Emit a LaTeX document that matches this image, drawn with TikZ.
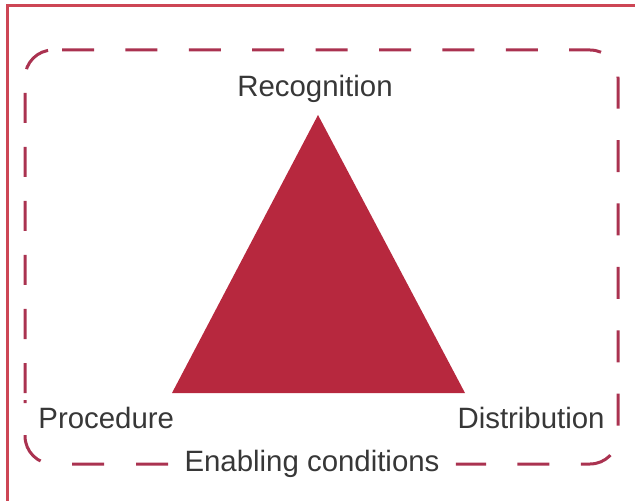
\documentclass[tikz,border=0pt]{standalone}
\usepackage{fontspec}
\setmainfont{Liberation Sans}
\definecolor{framered}{RGB}{205,70,85}
\definecolor{dashred}{RGB}{170,50,80}
\definecolor{trired}{RGB}{183,40,62}
\definecolor{labelgray}{RGB}{55,55,55}
\begin{document}
\begin{tikzpicture}[x=0.5pt,y=-0.5pt,
  lbl/.style={text=labelgray, font=\fontsize{14.7}{17}\selectfont, inner sep=0pt},
  dashline/.style={dashred, line width=1.5pt, rounded corners=14pt}]
\useasboundingbox (0,0) rectangle (635,501);
\draw[framered, line width=1.5pt] (7.5,520) |- (660,5.5); % outer frame, cut by the page
\coordinate (rec) at (318,115);
\coordinate (pro) at (172,393);
\coordinate (dis) at (465,393);
\fill[trired] (rec)--(pro)--(dis)--cycle;
\node[lbl, anchor=base] (recognition) at (315,97) {Recognition};
\node[lbl, anchor=base west] (procedure) at (38,428) {Procedure};
\node[lbl, anchor=base east] (distribution) at (605,428) {Distribution};
\node[lbl, anchor=base, inner xsep=8pt, inner ysep=3pt] (enabling) at (312,471) {Enabling conditions};
% dashed frame, in three pieces
\draw[dashline, dash pattern=on 16pt off 15.7pt] (62,50) -- (618,50) -- (618,464) -- (enabling.east |- 0,464);
\draw[dashline, dash pattern=on 16pt off 16pt] (enabling.west |- 0,464) -- (25,464) -- (25,400);
\draw[dashline, dash pattern=on 15pt off 12pt, dash phase=23.5pt] (25,400) -- (25,50) -- (62,50);
\end{tikzpicture}
\end{document}
